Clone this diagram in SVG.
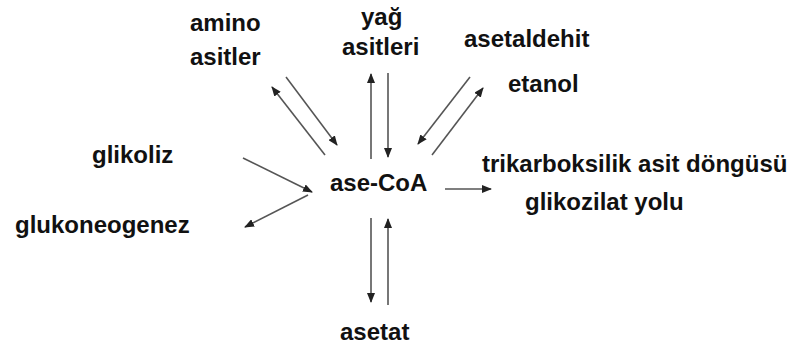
<svg xmlns="http://www.w3.org/2000/svg" width="799" height="360" viewBox="0 0 799 360">
<style>
text{font-family:"Liberation Sans",Arial,sans-serif;font-weight:bold;font-size:24px;fill:#111}
.c line{stroke:#555;stroke-width:1.6;marker-end:url(#ah)}
</style>
<defs>
<marker id="ah" markerUnits="userSpaceOnUse" markerWidth="10" markerHeight="8" refX="9" refY="4" orient="auto">
<path d="M0,0 L10,4 L0,8 Z" fill="#222"/>
</marker>
</defs>
<rect width="799" height="360" fill="#fff"/>
<g id="acecoa"><text x="330" y="191">ase-CoA</text></g>
<g id="amino"><text x="190" y="31">amino</text><text x="190" y="65">asitler</text></g>
<g id="yag"><text x="361" y="25">yağ</text><text x="342" y="55">asitleri</text></g>
<g id="asetaldehit"><text x="464" y="47">asetaldehit</text></g>
<g id="etanol"><text x="508" y="92">etanol</text></g>
<g id="glikoliz"><text x="92" y="163">glikoliz</text></g>
<g id="glukoneogenez"><text x="15" y="233">glukoneogenez</text></g>
<g id="tca"><text x="482" y="172">trikarboksilik asit döngüsü</text></g>
<g id="glioksilat"><text x="525" y="210">glikozilat yolu</text></g>
<g id="asetat"><text x="340" y="340">asetat</text></g>
<g class="c" id="connectors">
<line x1="286" y1="77" x2="337" y2="145"/>
<line x1="325" y1="155" x2="272" y2="87"/>
<line x1="371" y1="159" x2="371" y2="74"/>
<line x1="388" y1="73" x2="388" y2="157"/>
<line x1="470" y1="77" x2="418" y2="144"/>
<line x1="432" y1="155" x2="483" y2="88"/>
<line x1="243" y1="158" x2="312" y2="192"/>
<line x1="308" y1="195" x2="245" y2="227"/>
<line x1="445" y1="189" x2="491" y2="189"/>
<line x1="371" y1="218" x2="371" y2="302"/>
<line x1="388" y1="305" x2="388" y2="219"/>
</g>
</svg>
